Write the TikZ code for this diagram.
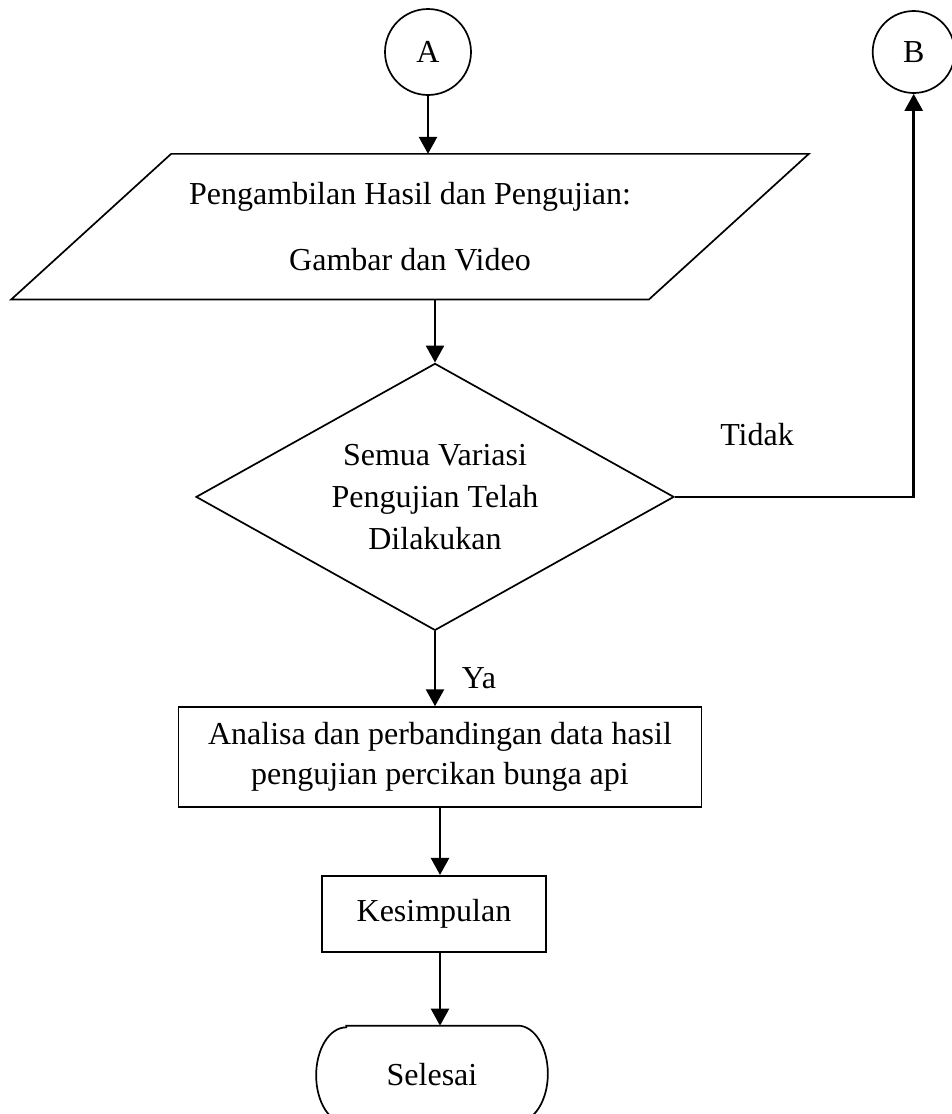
\documentclass[tikz,border=0pt]{standalone}
\usepackage{fontspec}
\setmainfont{Liberation Serif}
\usetikzlibrary{positioning, shapes.geometric, arrows.meta}

\begin{document}
\begin{tikzpicture}[
  x=1pt, y=1pt,
  font=\fontsize{32}{40}\selectfont,
  line width=1.7pt,
  connector/.style={circle, draw, minimum size=86pt, inner sep=0pt},
  io/.style={rectangle, minimum width=796pt, minimum height=144pt, align=center, inner sep=0pt},
  decision/.style={diamond, draw, aspect=1.79, minimum width=478pt, minimum height=267pt, align=center, inner sep=0pt},
  process/.style={rectangle, draw, align=center, inner sep=0pt},
  terminal/.style={rectangle, minimum width=230pt, minimum height=96pt, inner sep=0pt},
  arrow/.style={-{Triangle[length=17pt, width=18pt]}, line width=2.5pt}
]
\useasboundingbox (0,0) rectangle (952,-1114);

% Nodes
\node[connector] (conA) at (428,-52) {A};
\node[connector, minimum size=82pt, right=400pt of conA] (conB) {B};
\node[io, below=58pt of conA, xshift=-18pt] (data) {Pengambilan Hasil dan Pengujian:\\[26pt]Gambar dan Video};
\node[decision, below=63pt of data, xshift=25pt] (dec) {Semua Variasi\\[2pt]Pengujian Telah\\[2pt]Dilakukan};
\node[process, minimum width=523pt, minimum height=100pt, below=75pt of dec, xshift=5pt] (ana) {Analisa dan perbandingan data hasil\\pengujian percikan bunga api};
\node[process, minimum width=224pt, minimum height=76pt, below=67pt of ana, xshift=-6pt] (kes) {Kesimpulan};
\node[terminal, below=73pt of kes, xshift=-2pt] (sel) {Selesai};
\node (tidak) at (757,-435) {Tidak};
\node (ya) at (479,-678) {Ya};

% Shape outlines
\draw ([xshift=160pt]data.north west) -- (data.north east)
  -- ([xshift=-160pt]data.south east) -- (data.south west) -- cycle;
\draw ([xshift=30pt]sel.north west) -- ([xshift=-30pt]sel.north east)
  arc[start angle=90, end angle=-90, x radius=30pt, y radius=48pt]
  -- ([xshift=30pt]sel.south west)
  arc[start angle=270, end angle=90, x radius=30pt, y radius=48pt] -- cycle;

% Arrows
\draw[arrow] (conA) -- (conA |- data.north);
\draw[arrow] (dec.north |- data.south) -- (dec.north);
\draw[arrow] (dec.south) -- (dec.south |- ana.north);
\draw[arrow] (ana.south) -- (ana.south |- kes.north);
\draw[arrow] ([xshift=6pt]kes.south) -- ([xshift=6pt]kes.south |- sel.north);
\draw[arrow] (dec.east) -- (dec.east -| conB) -- (conB.south);

\end{tikzpicture}
\end{document}
